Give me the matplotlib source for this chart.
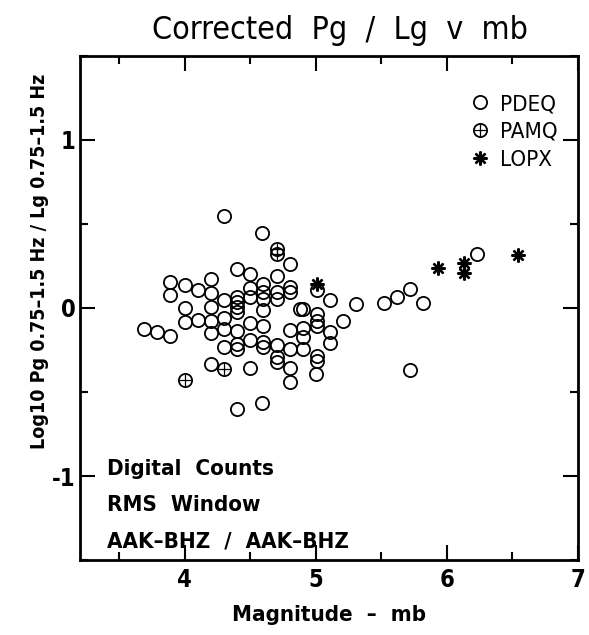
import numpy as np
import matplotlib
matplotlib.use("Agg")
import matplotlib.pyplot as plt
from matplotlib.ticker import MultipleLocator

plt.rcParams['font.family'] = ['DejaVu Sans']
plt.rcParams['font.stretch'] = 'condensed'
plt.rcParams['font.weight'] = 'bold'
plt.rcParams['axes.unicode_minus'] = False

# ---- data ----
pdeq_mb = [4.30, 4.59, 4.80, 4.40, 4.50, 4.70, 4.20, 3.89, 4.00, 4.10,
           4.20, 3.89, 4.30, 4.40, 4.40, 4.40, 4.40, 4.50, 4.50, 4.60,
           4.60, 4.60, 4.70, 4.70, 4.80, 4.80, 4.60, 4.00, 4.20, 4.88,
           3.69, 3.79, 3.89, 4.00, 4.10, 4.20, 4.20, 4.30, 4.30, 4.40,
           4.50, 4.60, 4.80, 4.30, 4.40, 4.40, 4.50, 4.60, 4.60, 4.70,
           4.80, 4.70, 4.70, 4.20, 4.50, 4.80, 4.80, 4.40, 4.59,
           5.01, 5.11, 5.31, 5.52, 5.62, 5.72, 5.82, 5.21, 4.90, 5.01,
           5.01, 5.01, 5.11, 5.11, 4.90, 4.90, 4.90, 5.01, 5.01, 5.00,
           5.72, 6.23]
pdeq_ratio = [0.545, 0.445, 0.26, 0.23, 0.20, 0.19, 0.175, 0.155, 0.135, 0.105,
              0.09, 0.08, 0.05, 0.065, 0.035, 0.005, -0.025, 0.12, 0.065, 0.145,
              0.095, 0.055, 0.095, 0.055, 0.125, 0.095, -0.015, 0.00, 0.005, -0.005,
              -0.125, -0.14, -0.165, -0.085, -0.07, -0.08, -0.15, -0.06, -0.125, -0.135,
              -0.09, -0.105, -0.13, -0.23, -0.215, -0.245, -0.19, -0.20, -0.235, -0.22,
              -0.245, -0.29, -0.32, -0.335, -0.355, -0.355, -0.44, -0.60, -0.565,
              0.105, 0.05, 0.025, 0.03, 0.065, 0.11, 0.03, -0.075, -0.005, -0.035,
              -0.075, -0.105, -0.14, -0.21, -0.12, -0.17, -0.245, -0.285, -0.315, -0.395,
              -0.37, 0.32]

pamq_mb = [4.70, 4.70, 4.30, 4.00]
pamq_ratio = [0.35, 0.32, -0.365, -0.43]

lopx_mb = [5.01, 5.93, 6.13, 6.13, 6.54]
lopx_ratio = [0.14, 0.24, 0.265, 0.21, 0.315]

fig = plt.figure(figsize=(5.89, 6.35), dpi=100)
ax = fig.add_axes([0.136, 0.118, 0.845, 0.794])

h1, = ax.plot(pdeq_mb, pdeq_ratio, 'o', ms=9.5, mfc='none', mec='black', mew=1.3, ls='none')
h2a, = ax.plot(pamq_mb, pamq_ratio, 'o', ms=9.5, mfc='none', mec='black', mew=1.3, ls='none')
h2b, = ax.plot(pamq_mb, pamq_ratio, '+', ms=8, mec='black', mew=0.9, ls='none')
h3, = ax.plot(lopx_mb, lopx_ratio, marker=(8, 2, 0), ms=10, mec='black', mew=1.7, ls='none')

ax.set_xlim(3.2, 7.0)
ax.set_ylim(-1.5, 1.5)
ax.xaxis.set_major_locator(MultipleLocator(1))
ax.xaxis.set_minor_locator(MultipleLocator(0.5))
ax.yaxis.set_major_locator(MultipleLocator(1))
ax.yaxis.set_minor_locator(MultipleLocator(0.5))
ax.tick_params(which='both', direction='in', top=True, right=True, width=1.5,
               labelsize=17, pad=6)
ax.tick_params(axis='y', pad=3)
ax.tick_params(which='major', length=11)
ax.tick_params(which='minor', length=6)
for s in ax.spines.values():
    s.set_linewidth(2)

ax.set_title("Corrected  Pg  /  Lg  v  mb", fontsize=23, fontweight='normal', pad=12, x=0.522)
ax.set_xlabel("Magnitude  –  mb", fontsize=16, fontweight='bold', labelpad=9)
ax.set_ylabel("Log10 Pg 0.75–1.5 Hz / Lg 0.75–1.5 Hz", fontsize=14, fontweight='bold')
ax.yaxis.set_label_coords(-0.062, 0.593)

ax.text(0.054, 0.18, "Digital  Counts", transform=ax.transAxes, fontsize=16, va='center')
ax.text(0.054, 0.11, "RMS  Window", transform=ax.transAxes, fontsize=16, va='center')
ax.text(0.054, 0.037, "AAK–BHZ  /  AAK–BHZ", transform=ax.transAxes, fontsize=16, va='center')

ax.legend([h1, (h2a, h2b), h3], ["PDEQ", "PAMQ", "LOPX"], loc='upper right',
          bbox_to_anchor=(0.99, 0.955), frameon=False,
          prop={'size': 16, 'weight': 'normal', 'stretch': 'condensed'},
          handletextpad=0.3, handlelength=1.2, labelspacing=0.35, borderaxespad=0.3)

fig.savefig("out.png", dpi=100)
